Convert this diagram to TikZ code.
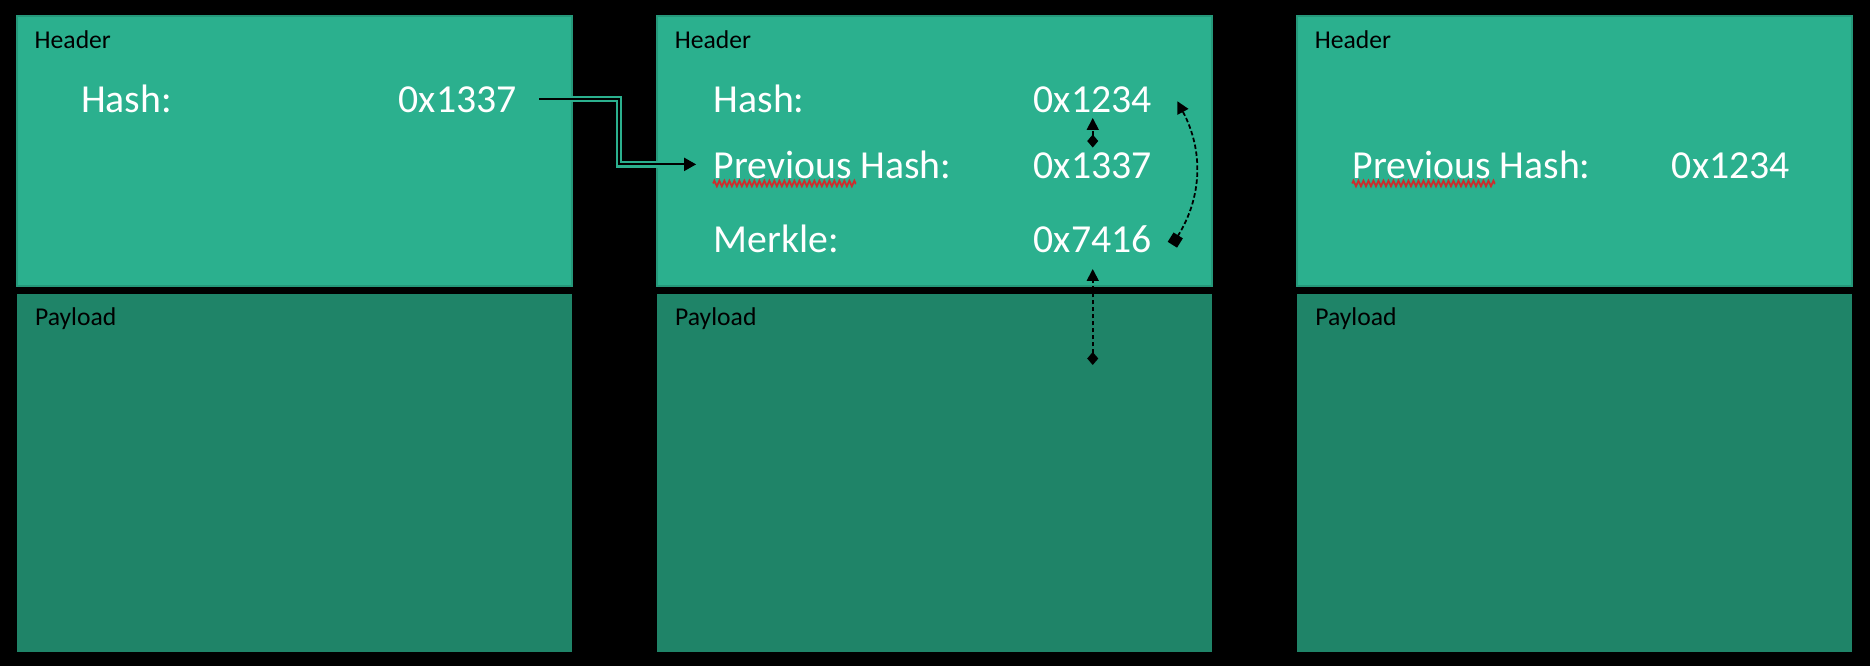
\documentclass[tikz,border=0pt]{standalone}
\usepackage{fontspec}
\setmainfont{Carlito}
\usetikzlibrary{positioning,arrows.meta,decorations.pathmorphing}

\definecolor{hdrfill}{RGB}{43,176,142}
\definecolor{hdrline}{RGB}{37,152,122}
\definecolor{payfill}{RGB}{31,132,104}
\definecolor{spellred}{RGB}{205,45,45}

\begin{document}
\begin{tikzpicture}[
    hdr/.style={rectangle, draw=hdrline, fill=hdrfill, line width=0.6pt, minimum width=5.55cm, minimum height=2.70cm, inner sep=0pt},
    pay/.style={rectangle, fill=payfill, minimum width=5.55cm, minimum height=3.58cm, inner sep=0pt},
    tag/.style={anchor=base west, inner sep=0pt, font=\fontsize{7.3}{9}\selectfont},
    lbl/.style={anchor=base west, inner sep=0pt, text=white, font=\fontsize{11.3}{13}\selectfont},
    link/.style={-{Triangle[length=1.2mm,width=1.3mm]}, line width=0.6pt, preaction={draw=hdrfill, line width=1.8pt, -}},
    ref/.style={{Diamond[length=1.3mm,width=1.1mm]}-{Triangle[length=1.2mm,width=1.2mm]}, line width=0.5pt, dash pattern=on 0.45mm off 0.25mm},
    squig/.style={spellred, line width=0.5pt, decorate, decoration={zigzag, segment length=0.5mm, amplitude=0.28mm}}
  ]

  % Define the gap between the blocks
  \def\gap{0.83cm}

  % Draw the black background
  \fill[black] (0,0) rectangle (18.7,6.66);
  \useasboundingbox (0,0) rectangle (18.7,6.66);

  % Draw the three blocks
  \node[hdr, anchor=north west] at (0.16,6.51) (hdr1) {};
  \node[hdr, right=\gap of hdr1] (hdr2) {};
  \node[hdr, right=\gap of hdr2] (hdr3) {};
  \foreach \i in {1,2,3} {
    \node[pay, below=0.06cm of hdr\i] (pay\i) {};
    \node[tag] (htag\i) at ([shift={(0.18,-0.33)}]hdr\i.north west) {Header};
    \node[tag] (ptag\i) at ([shift={(0.18,-0.32)}]pay\i.north west) {Payload};
  }

  % Draw the fields of block 1
  \node[lbl] (hash1)  at ([shift={(0.645,-0.97)}]hdr1.north west) {Hash:};
  \node[lbl] (hash1v) at ([shift={(3.82,-0.97)}]hdr1.north west) {0x1337};

  % Draw the fields of block 2
  \node[lbl] (hash2)  at ([shift={(0.57,-0.97)}]hdr2.north west) {Hash:};
  \node[lbl] (hash2v) at ([shift={(3.77,-0.97)}]hdr2.north west) {0x1234};
  \node[lbl] (prev2)  at ([shift={(0.57,-1.63)}]hdr2.north west) {Previous Hash:};
  \node[lbl] (prev2v) at ([shift={(3.77,-1.63)}]hdr2.north west) {0x1337};
  \node[lbl] (mrk2)   at ([shift={(0.57,-2.37)}]hdr2.north west) {Merkle:};
  \node[lbl] (mrk2v)  at ([shift={(3.77,-2.37)}]hdr2.north west) {0x7416};

  % Draw the fields of block 3
  \node[lbl] (prev3)  at ([shift={(0.56,-1.63)}]hdr3.north west) {Previous Hash:};
  \node[lbl] (prev3v) at ([shift={(3.75,-1.63)}]hdr3.north west) {0x1234};

  % Draw the spell check marks
  \draw[squig] ([yshift=-0.55mm]prev2.base west) -- ++(1.43,0);
  \draw[squig] ([yshift=-0.55mm]prev3.base west) -- ++(1.43,0);

  % Draw the links
  \draw[link] ([xshift=2.2mm]hash1v.east) -- ++(0.8,0) |- ([xshift=-1.7mm]prev2.west);
  \draw[ref, shorten <=0.4mm, shorten >=0.5mm] (prev2v.north) -- (hash2v.south);
  \draw[ref, {Square[length=1.1mm,width=1.1mm]}-{Triangle[length=1.2mm,width=1.2mm]}]
    ([shift={(2mm,-0.6mm)}]mrk2v.east) to[bend right=30] ([shift={(2.5mm,-0.2mm)}]hash2v.east);
  \coordinate (mrkroot) at ([yshift=-1.12cm]mrk2v.south);
  \draw[ref, shorten >=1.6mm] (mrkroot) -- (mrk2v.south);

\end{tikzpicture}
\end{document}
